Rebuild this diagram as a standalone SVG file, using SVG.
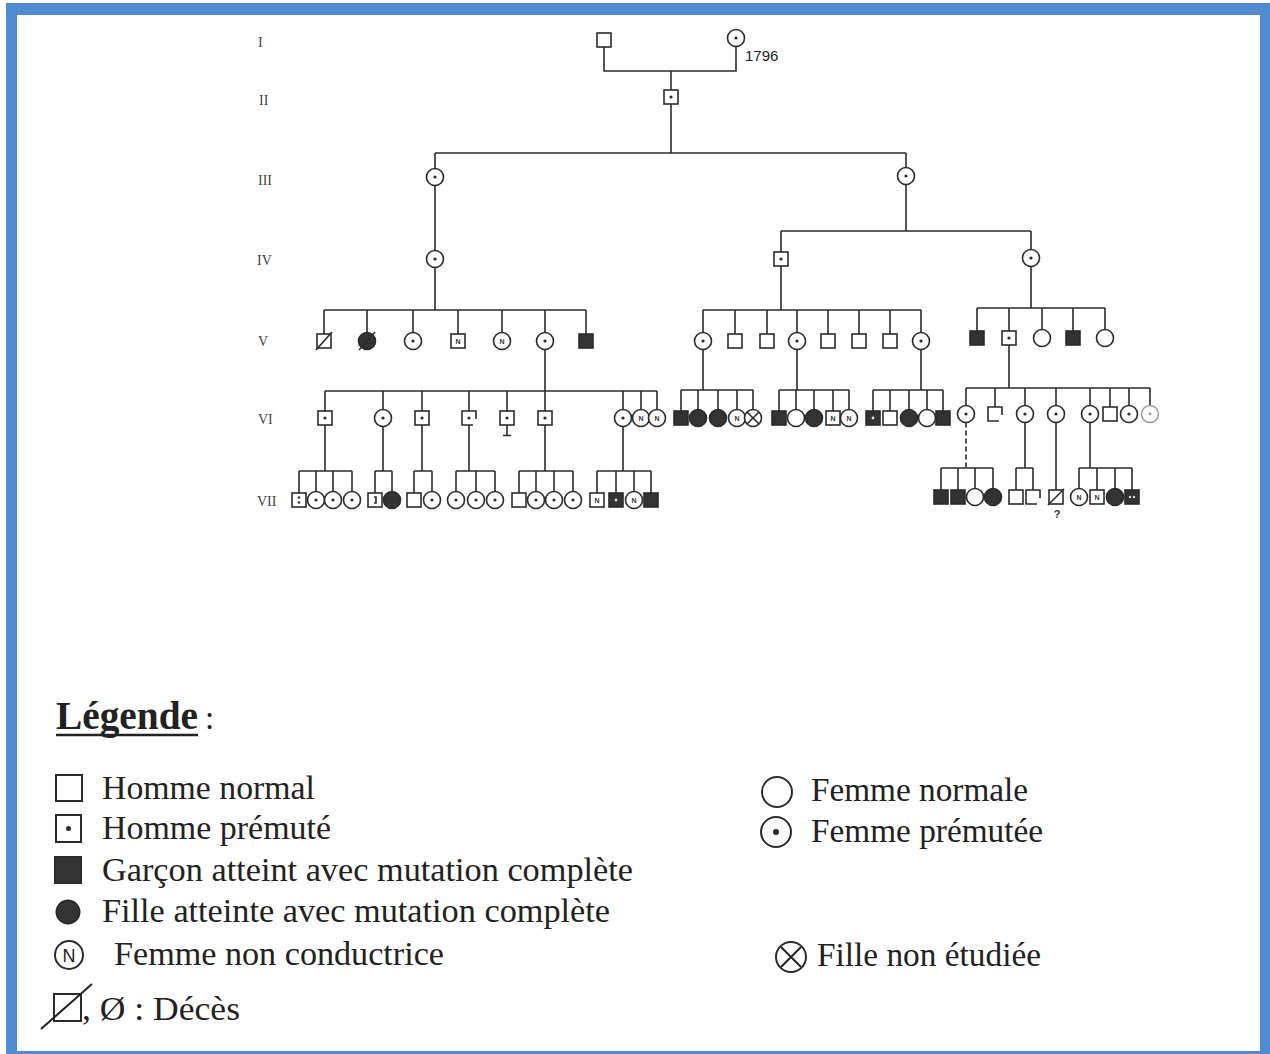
<svg xmlns="http://www.w3.org/2000/svg" xmlns:xlink="http://www.w3.org/1999/xlink" width="1270" height="1054" viewBox="0 0 1270 1054">
<style>
.s{stroke:#2b2b2b;stroke-width:1.6;fill:#fff}
.sf{stroke:#2b2b2b;stroke-width:1.6;fill:#333}
.ln{stroke:#2b2b2b;stroke-width:1.6;fill:none}
.dash{stroke:#2b2b2b;stroke-width:1.6;fill:none;stroke-dasharray:5 3}
.dot{fill:#2b2b2b}
.wd{fill:#ddd}
.nl{font-family:"Liberation Sans",Arial,sans-serif;font-size:7px;font-weight:bold;fill:#333;text-anchor:middle}
.gen{font-family:"Liberation Serif","Times New Roman",serif;font-size:14px;fill:#444}
.lg{font-family:"Liberation Serif","Times New Roman",serif;font-size:33px;fill:#222}
.lgs{stroke:#2b2b2b;stroke-width:2;fill:#fff}
.lgf{stroke:#2b2b2b;stroke-width:2;fill:#333}
</style>
<defs>
<g id="sq"><rect class="s" x="-7" y="-7" width="14" height="14"/></g>
<g id="sqP"><rect class="s" x="-7" y="-7" width="14" height="14"/><circle class="dot" r="1.6"/></g>
<g id="sqF"><rect class="sf" x="-7" y="-7" width="14" height="14"/></g>
<g id="sqFd"><rect class="sf" x="-7" y="-7" width="14" height="14"/><circle class="wd" r="1.4"/></g>
<g id="sqN"><rect class="s" x="-7" y="-7" width="14" height="14"/><text class="nl" y="2.5">N</text></g>
<g id="sqC"><path class="s" d="M7,1 V-7 H-7 V7 H4"/></g>
<g id="ci"><circle class="s" r="8.5"/></g>
<g id="ciP"><circle class="s" r="8.5"/><circle class="dot" r="1.6"/></g>
<g id="ciF"><circle class="sf" r="8.5"/></g>
<g id="ciN"><circle class="s" r="8.5"/><text class="nl" y="2.5">N</text></g>
<g id="ciX"><circle class="s" r="8.5"/><path class="ln" d="M-6,-6 L6,6 M6,-6 L-6,6"/></g>
</defs>

<rect x="6" y="3" width="1264" height="1051" fill="#518bd4"/>
<rect x="17" y="15" width="1243" height="1036" fill="#fff"/>

<g id="generation-labels" class="gen">
<text x="258" y="47">I</text>
<text x="259" y="105">II</text>
<text x="258" y="185">III</text>
<text x="257" y="265">IV</text>
<text x="258" y="346">V</text>
<text x="258" y="424">VI</text>
<text x="257" y="506">VII</text>
</g>

<g id="connectors">
<path class="ln" d="M604,47 V71 H736 V46.5"/>
<path class="ln" d="M671,71 V90"/>
<path class="ln" d="M671,104 V153 M435,153 H906 M435,153 V168.5 M906,153 V167.5"/>
<path class="ln" d="M435,185.5 V250.5"/>
<path class="ln" d="M906,184.5 V231 M781,231 H1031 M781,231 V252 M1031,231 V249.5"/>
<path class="ln" d="M435,267.5 V310 M324,310 H586 M324,310 V334 M367,310 V332.5 M413,310 V332.5 M458,310 V334 M502,310 V332.5 M545,310 V332.5 M586,310 V334"/>
<path class="ln" d="M781,266 V310 M703,310 H921 M703,310 V332.5 M735,310 V334 M767,310 V334 M797,310 V332.5 M828,310 V334 M859,310 V334 M890,310 V334 M921,310 V332.5"/>
<path class="ln" d="M1031,266.5 V308 M977,308 H1105 M977,308 V331 M1009,308 V331 M1042,308 V329.5 M1073,308 V331 M1105,308 V329.5"/>
<path class="ln" d="M545,349.5 V391 M325,391 H657 M325,391 V411 M383,391 V409.5 M422,391 V411 M469,391 V411 M507,391 V411 M545,391 V411 M623,391 V409.5 M641,391 V409.5 M657,391 V409.5"/>
<path class="ln" d="M703,349.5 V390 M681,390 H753 M681,390 V411 M698,390 V409.5 M718,390 V409.5 M737,390 V409.5 M753,390 V409.5"/>
<path class="ln" d="M797,349.5 V390 M779,390 H849 M779,390 V411 M796,390 V409.5 M814,390 V409.5 M833,390 V411 M849,390 V409.5"/>
<path class="ln" d="M921,349.5 V390 M873,390 H943 M873,390 V411 M890,390 V411 M909,390 V409.5 M927,390 V409.5 M943,390 V411"/>
<path class="ln" d="M1009,345 V388 M966,388 H1150 M966,388 V405.5 M995,388 V407 M1025,388 V405.5 M1056,388 V405.5 M1090,388 V405.5 M1110,388 V407 M1129,388 V405.5 M1150,388 V405.5"/>
<path class="ln" d="M507,425 V435 M503,435.5 H511"/>
<path class="ln" d="M325,425 V471 M299,471 H352 M299,471 V493 M316,471 V491.5 M333,471 V491.5 M352,471 V491.5"/>
<path class="ln" d="M383,426.5 V471 M375,471 H392 M375,471 V493 M392,471 V491.5"/>
<path class="ln" d="M422,425 V471 M414,471 H432 M414,471 V493 M432,471 V491.5"/>
<path class="ln" d="M469,425 V471 M456,471 H495 M456,471 V491.5 M476,471 V491.5 M495,471 V491.5"/>
<path class="ln" d="M545,425 V471 M519,471 H573 M519,471 V493 M536,471 V491.5 M554,471 V491.5 M573,471 V491.5"/>
<path class="ln" d="M623,426.5 V471 M597,471 H651 M597,471 V493 M616,471 V493 M634,471 V491.5 M651,471 V493"/>
<path class="dash" d="M966,422.5 V468"/>
<path class="ln" d="M941,468 H993 M941,468 V490 M958,468 V490 M975,468 V488.5 M993,468 V488.5"/>
<path class="ln" d="M1025,422.5 V468 M1016,468 H1033 M1016,468 V490 M1033,468 V490"/>
<path class="ln" d="M1056,422.5 V490"/>
<path class="ln" d="M1090,422.5 V468 M1079,468 H1132 M1079,468 V488.5 M1097,468 V490 M1115,468 V488.5 M1132,468 V490"/>
</g>

<g id="I-1"><use href="#sq" x="604" y="40"/></g>
<g id="I-2"><use href="#ciP" x="736" y="38"/><text x="745" y="61" font-family="Liberation Sans, Arial, sans-serif" font-size="15" fill="#222">1796</text></g>
<g id="II-1"><use href="#sqP" x="671" y="97"/></g>
<g id="III-1"><use href="#ciP" x="435" y="177"/></g>
<g id="III-2"><use href="#ciP" x="906" y="176"/></g>
<g id="IV-1"><use href="#ciP" x="435" y="259"/></g>
<g id="IV-2"><use href="#sqP" x="781" y="259"/></g>
<g id="IV-3"><use href="#ciP" x="1031" y="258"/></g>

<g id="V-1"><use href="#sq" x="324" y="341"/><path class="ln" d="M316,350 L332,332"/></g>
<g id="V-2"><use href="#ciF" x="367" y="341"/><path class="ln" d="M359,350 L375,332"/></g>
<g id="V-3"><use href="#ciP" x="413" y="341"/></g>
<g id="V-4"><use href="#sqN" x="458" y="341"/></g>
<g id="V-5"><use href="#ciN" x="502" y="341"/></g>
<g id="V-6"><use href="#ciP" x="545" y="341"/></g>
<g id="V-7"><use href="#sqF" x="586" y="341"/></g>
<g id="V-8"><use href="#ciP" x="703" y="341"/></g>
<g id="V-9"><use href="#sq" x="735" y="341"/></g>
<g id="V-10"><use href="#sq" x="767" y="341"/></g>
<g id="V-11"><use href="#ciP" x="797" y="341"/></g>
<g id="V-12"><use href="#sq" x="828" y="341"/></g>
<g id="V-13"><use href="#sq" x="859" y="341"/></g>
<g id="V-14"><use href="#sq" x="890" y="341"/></g>
<g id="V-15"><use href="#ciP" x="921" y="341"/></g>
<g id="V-16"><use href="#sqF" x="977" y="338"/></g>
<g id="V-17"><use href="#sqP" x="1009" y="338"/></g>
<g id="V-18"><use href="#ci" x="1042" y="338"/></g>
<g id="V-19"><use href="#sqF" x="1073" y="338"/></g>
<g id="V-20"><use href="#ci" x="1105" y="338"/></g>

<g id="VI-1"><use href="#sqP" x="325" y="418"/></g>
<g id="VI-2"><use href="#ciP" x="383" y="418"/></g>
<g id="VI-3"><use href="#sqP" x="422" y="418"/></g>
<g id="VI-4"><use href="#sqC" x="469" y="418"/><circle class="dot" cx="469" cy="418" r="1.6"/></g>
<g id="VI-5"><use href="#sqP" x="507" y="418"/></g>
<g id="VI-6"><use href="#sqP" x="545" y="418"/></g>
<g id="VI-7"><use href="#ciP" x="623" y="418"/></g>
<g id="VI-8"><use href="#ciN" x="641" y="418"/></g>
<g id="VI-9"><use href="#ciN" x="657" y="418"/></g>
<g id="VI-10"><use href="#sqF" x="681" y="418"/></g>
<g id="VI-11"><use href="#ciF" x="698" y="418"/></g>
<g id="VI-12"><use href="#ciF" x="718" y="418"/></g>
<g id="VI-13"><use href="#ciN" x="737" y="418"/></g>
<g id="VI-14"><use href="#ciX" x="753" y="418"/></g>
<g id="VI-15"><use href="#sqF" x="779" y="418"/></g>
<g id="VI-16"><use href="#ci" x="796" y="418"/></g>
<g id="VI-17"><use href="#ciF" x="814" y="418"/></g>
<g id="VI-18"><use href="#sqN" x="833" y="418"/></g>
<g id="VI-19"><use href="#ciN" x="849" y="418"/></g>
<g id="VI-20"><use href="#sqFd" x="873" y="418"/></g>
<g id="VI-21"><use href="#sq" x="890" y="418"/></g>
<g id="VI-22"><use href="#ciF" x="909" y="418"/></g>
<g id="VI-23"><use href="#ci" x="927" y="418"/></g>
<g id="VI-24"><use href="#sqF" x="943" y="418"/></g>
<g id="VI-25"><use href="#ciP" x="966" y="414"/></g>
<g id="VI-26"><use href="#sqC" x="995" y="414"/></g>
<g id="VI-27"><use href="#ciP" x="1025" y="414"/></g>
<g id="VI-28"><use href="#ciP" x="1056" y="414"/></g>
<g id="VI-29"><use href="#ciP" x="1090" y="414"/></g>
<g id="VI-30"><use href="#sq" x="1110" y="414"/></g>
<g id="VI-31"><use href="#ciP" x="1129" y="414"/></g>
<g id="VI-32"><circle cx="1150" cy="414" r="8.5" fill="#fff" stroke="#999" stroke-width="1.4"/><circle cx="1150" cy="414" r="1.4" fill="#999"/></g>

<g id="VII-1"><use href="#sq" x="299" y="500"/><circle class="dot" cx="299" cy="497.5" r="1.2"/><circle class="dot" cx="299" cy="502.5" r="1.2"/></g>
<g id="VII-2"><use href="#ciP" x="316" y="500"/></g>
<g id="VII-3"><use href="#ciP" x="333" y="500"/></g>
<g id="VII-4"><use href="#ciP" x="352" y="500"/></g>
<g id="VII-5"><use href="#sq" x="375" y="500"/><path class="ln" d="M374,497 H376 V503 H374" stroke-width="1.2"/></g>
<g id="VII-6"><use href="#ciF" x="392" y="500"/></g>
<g id="VII-7"><use href="#sq" x="414" y="500"/></g>
<g id="VII-8"><use href="#ciP" x="432" y="500"/></g>
<g id="VII-9"><use href="#ciP" x="456" y="500"/></g>
<g id="VII-10"><use href="#ciP" x="476" y="500"/></g>
<g id="VII-11"><use href="#ciP" x="495" y="500"/></g>
<g id="VII-12"><use href="#sq" x="519" y="500"/></g>
<g id="VII-13"><use href="#ciP" x="536" y="500"/></g>
<g id="VII-14"><use href="#ciP" x="554" y="500"/></g>
<g id="VII-15"><use href="#ciP" x="573" y="500"/></g>
<g id="VII-16"><use href="#sqN" x="597" y="500"/></g>
<g id="VII-17"><use href="#sqFd" x="616" y="500"/></g>
<g id="VII-18"><use href="#ciN" x="634" y="500"/></g>
<g id="VII-19"><use href="#sqF" x="651" y="500"/></g>
<g id="VII-20"><use href="#sqF" x="941" y="497"/></g>
<g id="VII-21"><use href="#sqF" x="958" y="497"/></g>
<g id="VII-22"><use href="#ci" x="975" y="497"/></g>
<g id="VII-23"><use href="#ciF" x="993" y="497"/></g>
<g id="VII-24"><use href="#sq" x="1016" y="497"/></g>
<g id="VII-25"><use href="#sqC" x="1033" y="497"/></g>
<g id="VII-26"><use href="#sq" x="1056" y="497"/><path class="ln" d="M1048,505 L1064,489"/><text x="1057" y="518" font-family="Liberation Sans, Arial, sans-serif" font-size="11" font-weight="bold" fill="#333" text-anchor="middle">?</text></g>
<g id="VII-27"><use href="#ciN" x="1079" y="497"/></g>
<g id="VII-28"><use href="#sqN" x="1097" y="497"/></g>
<g id="VII-29"><use href="#ciF" x="1115" y="497"/></g>
<g id="VII-30"><rect class="sf" x="1125" y="490" width="14" height="14"/><circle class="wd" cx="1130" cy="497" r="1.2"/><circle class="wd" cx="1134" cy="497" r="1.2"/></g>

<g id="legend">
<text x="56" y="729" font-family="Liberation Serif, Times New Roman, serif" font-size="39" font-weight="bold" fill="#222" textLength="142" lengthAdjust="spacingAndGlyphs">Légende</text>
<line x1="56" y1="735" x2="198" y2="735" stroke="#222" stroke-width="2.5"/>
<text class="lg" x="205" y="729">:</text>

<g id="legend-homme-normal"><rect class="lgs" x="56" y="775" width="26" height="26"/><text class="lg" x="102" y="799" textLength="213" lengthAdjust="spacingAndGlyphs">Homme normal</text></g>
<g id="legend-homme-premute"><rect class="lgs" x="56" y="815" width="25" height="27"/><circle class="dot" cx="68.5" cy="828.5" r="2.5"/><text class="lg" x="102" y="839" textLength="229" lengthAdjust="spacingAndGlyphs">Homme prémuté</text></g>
<g id="legend-garcon"><rect class="lgf" x="55" y="857" width="26" height="26"/><text class="lg" x="102" y="881" textLength="531" lengthAdjust="spacingAndGlyphs">Garçon atteint avec mutation complète</text></g>
<g id="legend-fille"><circle class="lgf" cx="68" cy="912" r="11.5"/><text class="lg" x="102" y="922" textLength="508" lengthAdjust="spacingAndGlyphs">Fille atteinte avec mutation complète</text></g>
<g id="legend-non-conductrice"><circle class="lgs" cx="69" cy="955" r="14"/><text x="69" y="962" font-family="Liberation Sans, Arial, sans-serif" font-size="18" fill="#222" text-anchor="middle">N</text><text class="lg" x="114" y="965" textLength="330" lengthAdjust="spacingAndGlyphs">Femme non conductrice</text></g>
<g id="legend-deces"><rect class="lgs" x="54" y="994" width="27" height="27" fill="none"/><line x1="41" y1="1029" x2="92" y2="984" stroke="#222" stroke-width="2"/><text class="lg" x="82" y="1020" textLength="158" lengthAdjust="spacingAndGlyphs">, Ø : Décès</text></g>
<g id="legend-femme-normale"><circle class="lgs" cx="777" cy="792" r="15"/><text class="lg" x="811" y="801" textLength="217" lengthAdjust="spacingAndGlyphs">Femme normale</text></g>
<g id="legend-femme-premutee"><circle class="lgs" cx="776" cy="832" r="15"/><circle class="dot" cx="776" cy="832" r="3"/><text class="lg" x="811" y="842" textLength="232" lengthAdjust="spacingAndGlyphs">Femme prémutée</text></g>
<g id="legend-non-etudiee"><circle class="lgs" cx="791" cy="957" r="15"/><path d="M781,947 L801,967 M801,947 L781,967" stroke="#222" stroke-width="2"/><text class="lg" x="817" y="966" textLength="224" lengthAdjust="spacingAndGlyphs">Fille non étudiée</text></g>
</g>
</svg>
